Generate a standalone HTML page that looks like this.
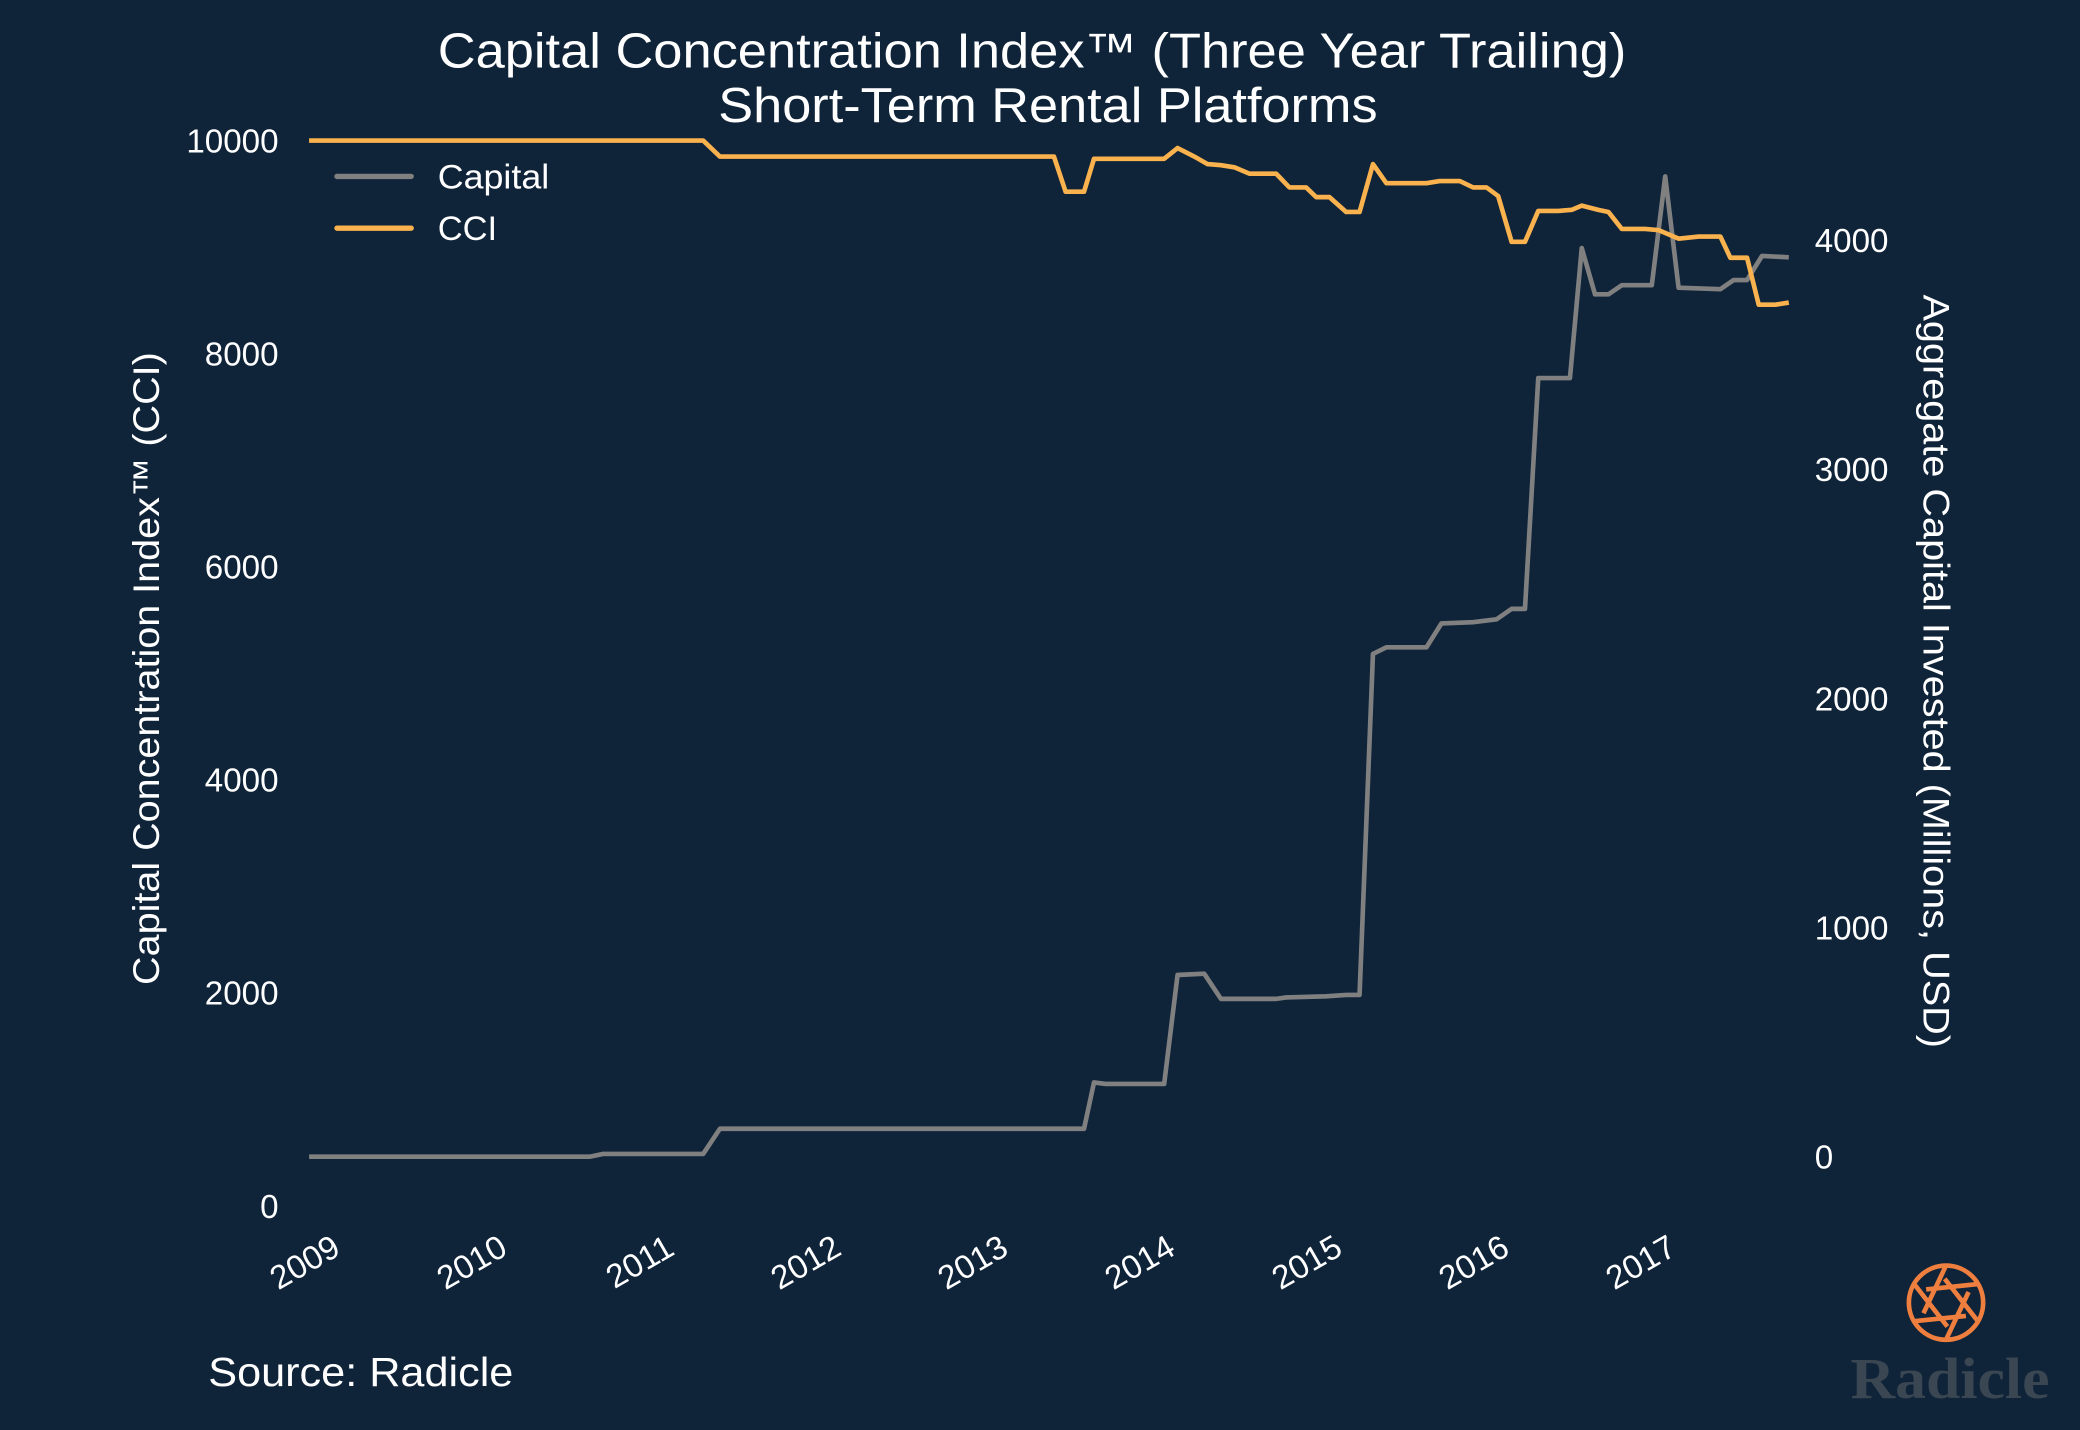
<!DOCTYPE html>
<html><head><meta charset="utf-8"><style>
html,body{margin:0;padding:0;background:#0f2339;}
svg{display:block;font-family:"Liberation Sans",Arial,sans-serif;}
</style></head><body>
<svg id="chart" width="2080" height="1430" viewBox="0 0 1568 1078" xmlns="http://www.w3.org/2000/svg">
<rect width="1568" height="1078" fill="#0f2339"/>
<text x="778" y="51" text-anchor="middle" font-size="37" textLength="896" lengthAdjust="spacingAndGlyphs" fill="#fff">Capital Concentration Index™ (Three Year Trailing)</text>
<text x="790" y="92" text-anchor="middle" font-size="37" textLength="497" lengthAdjust="spacingAndGlyphs" fill="#fff">Short-Term Rental Platforms</text>
<text transform="translate(120,504) rotate(-90)" text-anchor="middle" font-size="28" textLength="477" lengthAdjust="spacingAndGlyphs" fill="#fff">Capital Concentration Index™ (CCI)</text>
<text transform="translate(1450,506) rotate(90)" text-anchor="middle" font-size="28" textLength="568" lengthAdjust="spacingAndGlyphs" fill="#fff">Aggregate Capital Invested (Millions, USD)</text>
<g id="axes"></g>
<g id="series"></g>
<g>
<line x1="254" y1="133" x2="310" y2="133" stroke="#808080" stroke-width="4" stroke-linecap="round"/>
<text x="330" y="142" font-size="26" textLength="84" lengthAdjust="spacingAndGlyphs" fill="#fff">Capital</text>
<line x1="254" y1="172" x2="310" y2="172" stroke="#f9b24e" stroke-width="4" stroke-linecap="round"/>
<text x="330" y="181" font-size="26" fill="#fff">CCI</text>
</g>
<text x="157" y="1045" font-size="31" textLength="230" lengthAdjust="spacingAndGlyphs" fill="#fff">Source: Radicle</text>
<g fill="none" stroke="#ef7f3e" stroke-width="3.5">
<circle cx="1467" cy="982" r="28"/>
<path d="M1467 954 L1450 990 M1491 968 L1452 972 M1491 996 L1466 964 M1467 1010 L1484 974 M1443 996 L1482 992 M1443 968 L1468 1000"/>
</g>
<text x="1470" y="1054" text-anchor="middle" font-size="44" font-weight="bold" textLength="150" lengthAdjust="spacingAndGlyphs" fill="#3a4652" font-family="'Liberation Serif',serif">Radicle</text>
<script>
const cciYears=[2009,2011.36,2011.46,2013.46,2013.53,2013.64,2013.70,2014.12,2014.20,2014.30,2014.38,2014.46,2014.54,2014.63,2014.79,2014.87,2014.97,2015.03,2015.11,2015.21,2015.29,2015.37,2015.45,2015.69,2015.77,2015.89,2015.97,2016.05,2016.12,2016.20,2016.28,2016.36,2016.48,2016.56,2016.62,2016.72,2016.78,2016.86,2017.00,2017.08,2017.20,2017.32,2017.45,2017.51,2017.61,2017.68,2017.78,2017.86];
const cciValues=[10000,10000,9850,9850,9520,9520,9830,9830,9930,9850,9780,9770,9750,9690,9690,9560,9560,9470,9470,9330,9330,9780,9600,9600,9620,9620,9560,9560,9480,9050,9050,9340,9340,9350,9390,9350,9330,9170,9170,9160,9080,9100,9100,8900,8900,8460,8460,8480];
const capYears=[2009,2010.68,2010.76,2011.36,2011.46,2013.46,2013.64,2013.70,2013.77,2014.12,2014.20,2014.36,2014.46,2014.79,2014.85,2015.09,2015.21,2015.29,2015.37,2015.45,2015.69,2015.78,2015.97,2016.11,2016.20,2016.28,2016.36,2016.55,2016.62,2016.70,2016.78,2016.86,2017.04,2017.12,2017.20,2017.45,2017.53,2017.61,2017.70,2017.86];
const capValues=[0,0,12,12,122,122,122,324,318,318,793,799,689,689,695,700,706,706,2194,2223,2223,2327,2333,2345,2391,2391,3398,3398,3965,3763,3763,3803,3803,4278,3792,3786,3826,3826,3931,3925];
const leftTicks=[0,2000,4000,6000,8000,10000];
const rightTicks=[0,1000,2000,3000,4000];
const xTicks=[2009,2010,2011,2012,2013,2014,2015,2016,2017];
const NS="http://www.w3.org/2000/svg";
const xS=y=>233+(y-2009)*125.9;
const yL=v=>909-v*0.0803;
const yR=v=>872-v*0.17275;
const axes=document.getElementById('axes'),series=document.getElementById('series');
function txt(parent,x,y,s,anchor,tr){const t=document.createElementNS(NS,'text');t.setAttribute('x',x);t.setAttribute('y',y);t.setAttribute('font-size','25');t.setAttribute('fill','#fff');t.setAttribute('text-anchor',anchor);if(tr)t.setAttribute('transform',tr);t.textContent=s;parent.appendChild(t);return t;}
leftTicks.forEach(v=>{const t=txt(axes,210,yL(v)+9,String(v),'end');

});
rightTicks.forEach(v=>{const t=txt(axes,1368,yR(v)+9,String(v),'start');

});
xTicks.forEach(v=>{const x=xS(v)+25,y=945;const t=txt(axes,x,y,String(v),'end','rotate(-30 '+x+' '+y+')');

});
function line(xs,vs,sc,color,name){const p=document.createElementNS(NS,'polyline');p.setAttribute('points',xs.map((x,i)=>xS(x).toFixed(1)+','+sc(vs[i]).toFixed(1)).join(' '));p.setAttribute('fill','none');p.setAttribute('stroke',color);p.setAttribute('stroke-width','3.5');p.setAttribute('stroke-linejoin','round');


series.appendChild(p);}
line(capYears,capValues,yR,'#808080','capital-line');
line(cciYears,cciValues,yL,'#f9b24e','cci-line');
</script>
</svg>
</body></html>
